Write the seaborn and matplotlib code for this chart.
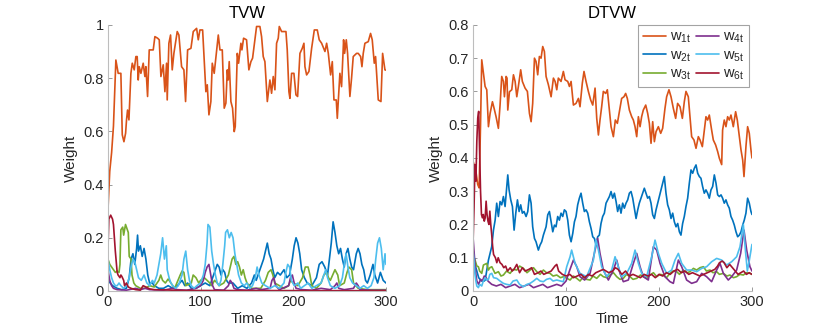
import numpy as np
import pandas as pd
import seaborn as sns
import matplotlib
matplotlib.use("Agg")
import matplotlib.pyplot as plt

# ---------------- data: TVW (left panel) ----------------
tvw_w1_t = [0, 2, 4, 6, 8.6, 11.1, 14.0, 15.5, 17.3, 19.1, 20.1, 21.2, 22.7, 24.8, 26.3, 28.4, 30.2, 31.6, 32.7, 33.8,
            35.6, 38.1, 39.9, 41.0, 42.8, 44.6, 48.9, 50.7, 53.6, 55.4, 57.2, 59.7, 61.5, 63.3, 64.0, 65.8, 67.6, 69.4,
            71.2, 74.8, 76.6, 79.5, 82.0, 83.8, 86.0, 89.6, 92.1, 95.7, 97.5, 99.3, 102.2, 105.7, 107.2, 109.0, 111.1,
            112.6, 114.7, 119.1, 120.9, 123.4, 125.5, 127.3, 128.8, 129.8, 130.9, 132.7, 134.5, 136.3, 137.4, 139.6,
            141.0, 143.5, 144.6, 146.4, 149.6, 152.1, 154.3, 156.1, 160.4, 164.0, 165.8, 167.6, 169.4, 172.0, 174.8,
            176.6, 178.4, 180.2, 182.0, 183.8, 184.9, 187.4, 192.1, 193.5, 195.3, 196.4, 198.2, 200.7, 202.9, 204.7,
            207.2, 209.7, 211.5, 212.6, 214.4, 216.9, 219.8, 222.7, 225.9, 228.0, 230.6, 234.2, 236.0, 237.8, 240.3,
            242.1, 243.9, 246.4, 247.5, 250.3, 252.1, 254.3, 255.4, 257.2, 258.6, 261.1, 262.9, 264.7, 268.3, 270.1,
            272.7, 274.1, 275.5, 277.3, 280.9, 283.4, 285.2, 287.4, 288.8, 291.7, 294.6, 296.4, 298.9, 300]
tvw_w1_v = [0.30, 0.45, 0.52, 0.62, 0.868, 0.818, 0.818, 0.587, 0.561, 0.593, 0.643, 0.680, 0.643, 0.818, 0.856, 0.831,
            0.881, 0.881, 0.793, 0.843, 0.818, 0.856, 0.806, 0.843, 0.731, 0.906, 0.906, 0.956, 0.950, 0.944, 0.806,
            0.850, 0.749, 0.856, 0.718, 0.931, 0.962, 0.831, 0.893, 0.975, 0.962, 0.843, 0.831, 0.712, 0.906, 0.912,
            0.975, 0.987, 0.944, 0.981, 0.981, 0.749, 0.775, 0.662, 0.712, 0.856, 0.818, 0.962, 0.906, 0.906, 0.687,
            0.706, 0.831, 0.793, 0.862, 0.712, 0.687, 0.599, 0.618, 0.893, 0.856, 0.931, 0.906, 0.950, 0.944, 0.831,
            0.862, 0.875, 0.994, 0.994, 0.956, 0.881, 0.862, 0.712, 0.793, 0.743, 0.806, 0.756, 0.931, 0.950, 0.994,
            0.975, 0.975, 0.906, 0.749, 0.724, 0.818, 0.818, 0.737, 0.731, 0.893, 0.912, 0.931, 0.843, 0.812, 0.825,
            0.912, 0.981, 0.981, 0.944, 0.931, 0.900, 0.931, 0.893, 0.812, 0.862, 0.718, 0.718, 0.649, 0.818, 0.768,
            0.944, 0.893, 0.944, 0.893, 0.731, 0.800, 0.881, 0.893, 0.893, 0.881, 0.843, 0.893, 0.931, 0.937, 0.968,
            0.944, 0.856, 0.881, 0.718, 0.712, 0.893, 0.831, 0.83]

tvw_w2_t = [0, 5, 10, 15, 20, 23, 25, 27, 29, 31, 32, 33, 35, 37, 39, 41, 43, 45, 48, 50, 55, 60, 65, 70, 75, 80, 83,
            86, 90, 95, 100, 105, 110, 113, 116, 118, 120, 122, 124, 126, 128, 130, 135, 140, 145, 150, 155, 158, 160,
            163, 166, 168, 170, 172, 174, 176, 178, 180, 183, 186, 190, 193, 196, 199, 201, 203, 205, 207, 209, 212,
            215, 220, 225, 228, 231, 234, 237, 239, 241, 243, 245, 247, 249, 251, 253, 255, 257, 259, 261, 263, 265,
            268, 270, 272, 274, 276, 278, 280, 283, 286, 288, 291, 294, 297, 300]
tvw_w2_v = [0.04, 0.02, 0.01, 0.005, 0.01, 0.05, 0.12, 0.14, 0.10, 0.16, 0.21, 0.15, 0.17, 0.13, 0.16, 0.12, 0.06, 0.03,
            0.03, 0.02, 0.01, 0.01, 0.02, 0.01, 0.02, 0.04, 0.02, 0.03, 0.01, 0.01, 0.02, 0.03, 0.02, 0.05, 0.08, 0.10,
            0.09, 0.06, 0.08, 0.07, 0.04, 0.03, 0.03, 0.01, 0.02, 0.01, 0.03, 0.06, 0.04, 0.07, 0.10, 0.12, 0.15, 0.18,
            0.14, 0.12, 0.08, 0.05, 0.07, 0.06, 0.08, 0.05, 0.06, 0.12, 0.17, 0.20, 0.18, 0.14, 0.08, 0.05, 0.03, 0.02,
            0.05, 0.10, 0.11, 0.09, 0.06, 0.12, 0.18, 0.26, 0.22, 0.17, 0.14, 0.16, 0.12, 0.09, 0.14, 0.16, 0.12, 0.09,
            0.08, 0.14, 0.16, 0.14, 0.10, 0.08, 0.04, 0.03, 0.06, 0.10, 0.06, 0.03, 0.07, 0.04, 0.03]

tvw_w3_t = [0, 2, 4, 6, 8, 10, 12, 13, 14, 16, 17, 19, 21, 22, 23, 25, 26, 28, 30, 35, 40, 45, 50, 55, 57, 59, 62, 65,
            68, 72, 78, 80, 82, 84, 90, 92, 95, 98, 100, 104, 107, 110, 112, 115, 118, 120, 125, 130, 134, 136, 138,
            140, 142, 144, 146, 148, 150, 155, 160, 165, 170, 173, 176, 178, 180, 185, 190, 195, 197, 200, 205, 210,
            213, 216, 218, 220, 225, 230, 233, 236, 238, 240, 245, 248, 250, 255, 258, 260, 263, 265, 270, 280, 290, 300]
tvw_w3_v = [0.12, 0.10, 0.09, 0.08, 0.07, 0.075, 0.07, 0.10, 0.23, 0.24, 0.21, 0.25, 0.23, 0.22, 0.13, 0.12, 0.06,
            0.03, 0.02, 0.01, 0.01, 0.02, 0.015, 0.04, 0.06, 0.04, 0.03, 0.045, 0.03, 0.01, 0.06, 0.075, 0.07, 0.02,
            0.03, 0.06, 0.05, 0.03, 0.04, 0.05, 0.04, 0.03, 0.02, 0.04, 0.03, 0.02, 0.03, 0.06, 0.12, 0.13, 0.10, 0.11,
            0.09, 0.06, 0.08, 0.05, 0.03, 0.01, 0.01, 0.01, 0.04, 0.07, 0.08, 0.06, 0.03, 0.02, 0.01, 0.02, 0.04, 0.03,
            0.02, 0.05, 0.09, 0.09, 0.06, 0.02, 0.01, 0.03, 0.06, 0.07, 0.05, 0.04, 0.08, 0.06, 0.02, 0.03, 0.07, 0.09,
            0.08, 0.03, 0.01, 0.005, 0.005, 0.005]

tvw_w4_t = [0, 2, 4, 6, 10, 20, 30, 35, 40, 45, 60, 70, 75, 85, 95, 100, 103, 105, 107, 109, 111, 113, 115, 125, 130,
            132, 134, 136, 140, 150, 160, 165, 175, 177, 179, 181, 185, 195, 197, 199, 201, 203, 210, 220, 230, 240,
            245, 247, 249, 255, 265, 268, 270, 272, 285, 300]
tvw_w4_v = [0.08, 0.04, 0.02, 0.01, 0.005, 0.003, 0.01, 0.005, 0.01, 0.005, 0.003, 0.01, 0.005, 0.003, 0.01, 0.02,
            0.04, 0.07, 0.09, 0.10, 0.06, 0.02, 0.005, 0.003, 0.02, 0.04, 0.03, 0.01, 0.005, 0.003, 0.01, 0.005, 0.01,
            0.04, 0.05, 0.02, 0.005, 0.02, 0.05, 0.06, 0.03, 0.01, 0.005, 0.003, 0.01, 0.005, 0.02, 0.03, 0.01, 0.005,
            0.01, 0.03, 0.02, 0.005, 0.003, 0.003]

tvw_w5_t = [0, 2, 4, 6, 8, 10, 12, 14, 17, 20, 23, 25, 27, 29, 31, 33, 36, 39, 42, 45, 48, 50, 53, 55, 57, 59, 61, 63,
            64, 66, 68, 70, 73, 76, 80, 82, 84, 86, 88, 90, 93, 96, 100, 103, 105, 107, 108, 110, 112, 114, 116, 118,
            120, 122, 124, 126, 127, 129, 131, 133, 135, 137, 139, 141, 144, 147, 150, 153, 156, 159, 161, 163, 166,
            170, 175, 180, 185, 190, 192, 194, 196, 198, 201, 205, 208, 212, 216, 220, 225, 230, 233, 235, 237, 240,
            245, 250, 253, 255, 257, 259, 261, 264, 268, 272, 276, 280, 284, 287, 289, 291, 293, 295, 297, 299, 300]
tvw_w5_v = [0.12, 0.08, 0.05, 0.03, 0.02, 0.02, 0.03, 0.02, 0.01, 0.02, 0.05, 0.09, 0.12, 0.11, 0.08, 0.05, 0.04,
            0.06, 0.03, 0.02, 0.04, 0.03, 0.06, 0.10, 0.14, 0.20, 0.12, 0.17, 0.08, 0.05, 0.03, 0.02, 0.01, 0.02, 0.06,
            0.12, 0.15, 0.08, 0.04, 0.02, 0.01, 0.02, 0.03, 0.06, 0.10, 0.18, 0.25, 0.24, 0.15, 0.10, 0.06, 0.03, 0.02,
            0.04, 0.10, 0.17, 0.22, 0.23, 0.20, 0.22, 0.20, 0.14, 0.10, 0.06, 0.03, 0.02, 0.03, 0.01, 0.02, 0.05, 0.09,
            0.06, 0.03, 0.02, 0.01, 0.02, 0.01, 0.03, 0.07, 0.10, 0.09, 0.04, 0.02, 0.03, 0.01, 0.02, 0.03, 0.01, 0.02,
            0.03, 0.06, 0.08, 0.05, 0.02, 0.01, 0.02, 0.05, 0.10, 0.14, 0.09, 0.05, 0.03, 0.02, 0.01, 0.02, 0.01, 0.02,
            0.05, 0.12, 0.18, 0.20, 0.16, 0.08, 0.14, 0.10]

tvw_w6_t = [0, 1, 3, 5, 6, 7, 8, 9, 10, 11, 13, 14, 15, 17, 18, 20, 22, 25, 30, 35, 38, 41, 45, 50, 60, 80, 300]
tvw_w6_v = [0.15, 0.27, 0.285, 0.27, 0.25, 0.20, 0.15, 0.11, 0.07, 0.06, 0.05, 0.06, 0.055, 0.04, 0.02, 0.03, 0.015,
            0.01, 0.005, 0.003, 0.02, 0.015, 0.008, 0.005, 0.004, 0.002, 0.001]

# ---------------- data: DTVW (right panel) ----------------
dtvw_w1_t = [0, 3, 5, 6.5, 8, 9.3, 12.9, 14.7, 16.5, 18.3, 20.8, 22.6, 24.7, 27.2, 29.0, 30.8, 32.6, 33.7, 35.5, 36.5,
             37.3, 39.1, 41.6, 43.4, 45.2, 47.0, 48.7, 51.2, 53.0, 55.9, 58.4, 60.6, 62.4, 64.1, 66.0, 67.7, 69.5, 71.3,
             73.1, 74.9, 76.7, 78.5, 81.0, 83.9, 86.4, 88.2, 90.0, 91.7, 94.6, 97.1, 98.9, 101.8, 103.6, 105.4, 107.9,
             110.7, 113.3, 115.0, 117.5, 119.3, 121.5, 124.0, 126.5, 128.7, 131.2, 133.0, 134.8, 136.5, 138.3, 140.1,
             142.6, 144.4, 146.6, 148.4, 150.9, 153.0, 155.2, 157.3, 159.8, 162.3, 164.1, 165.9, 168.1, 170.6, 172.4,
             174.2, 176.0, 177.8, 179.6, 181.3, 183.1, 185.7, 187.8, 189.6, 191.4, 193.2, 195.0, 196.8, 199.3, 201.8,
             203.9, 206.4, 208.2, 210.7, 212.9, 215.4, 217.9, 220.0, 222.6, 225.1, 227.2, 229.0, 231.5, 233.3, 235.1,
             237.6, 239.8, 242.3, 244.1, 246.6, 248.7, 250.5, 252.3, 254.1, 256.6, 258.4, 260.9, 263.1, 264.9, 267.4,
             268.4, 270.2, 272.0, 273.8, 275.6, 277.4, 279.9, 282.4, 284.2, 286.4, 288.2, 290.0, 291.4, 293.5, 295.3,
             297.1, 298.9, 300]
dtvw_w1_v = [0.39, 0.36, 0.32, 0.31, 0.50, 0.695, 0.615, 0.605, 0.494, 0.534, 0.569, 0.549, 0.524, 0.489, 0.559, 0.645,
             0.630, 0.584, 0.645, 0.640, 0.544, 0.599, 0.605, 0.650, 0.630, 0.584, 0.615, 0.665, 0.630, 0.610, 0.600,
             0.534, 0.509, 0.564, 0.700, 0.690, 0.650, 0.705, 0.700, 0.735, 0.720, 0.645, 0.620, 0.584, 0.640, 0.630,
             0.605, 0.640, 0.630, 0.660, 0.635, 0.630, 0.615, 0.630, 0.559, 0.564, 0.579, 0.554, 0.625, 0.660, 0.630,
             0.600, 0.574, 0.559, 0.610, 0.519, 0.469, 0.514, 0.554, 0.600, 0.594, 0.605, 0.544, 0.494, 0.464, 0.514,
             0.504, 0.539, 0.579, 0.584, 0.594, 0.579, 0.544, 0.524, 0.514, 0.494, 0.464, 0.524, 0.494, 0.524, 0.544,
             0.559, 0.534, 0.504, 0.444, 0.509, 0.449, 0.479, 0.494, 0.474, 0.489, 0.549, 0.584, 0.605, 0.584, 0.549,
             0.519, 0.564, 0.554, 0.519, 0.569, 0.600, 0.584, 0.524, 0.464, 0.454, 0.429, 0.464, 0.454, 0.434, 0.484,
             0.524, 0.514, 0.529, 0.484, 0.454, 0.439, 0.419, 0.399, 0.380, 0.484, 0.514, 0.494, 0.524, 0.514, 0.529,
             0.494, 0.539, 0.514, 0.464, 0.424, 0.394, 0.344, 0.434, 0.494, 0.474, 0.424, 0.40]

dtvw_w2_t = [0, 3, 6, 9, 12, 13, 16.5, 20, 21.9, 23.7, 25.4, 27.2, 29.0, 30.8, 32.6, 34.4, 36.2, 37.3, 38.7, 40.5,
             42.3, 44.1, 45.9, 47.7, 49.5, 51.2, 53.0, 54.8, 57.0, 58.8, 60.6, 62.4, 64.1, 66.0, 67.7, 70.2, 72.0, 73.8,
             75.6, 78.5, 80.3, 82.1, 83.9, 85.7, 87.5, 89.2, 91.0, 92.8, 94.6, 96.4, 98.2, 100.0, 101.8, 103.6, 105.4,
             107.2, 109.0, 110.7, 112.5, 114.3, 116.1, 117.9, 119.7, 121.5, 123.3, 125.1, 126.9, 128.7, 130.5, 132.3,
             134.0, 135.8, 137.6, 139.4, 141.2, 143.0, 144.8, 146.6, 148.4, 150.2, 152.0, 153.8, 155.5, 157.3, 159.1,
             160.9, 162.7, 164.5, 166.3, 168.1, 169.9, 171.7, 173.5, 175.3, 177.1, 178.8, 180.6, 182.4, 184.2, 186.0,
             187.8, 189.6, 191.4, 193.2, 195.0, 196.8, 198.6, 200.4, 202.2, 204.0, 205.7, 207.5, 209.3, 211.1, 212.9,
             214.7, 216.5, 218.3, 220.1, 221.9, 223.6, 225.4, 227.2, 229.0, 230.8, 232.6, 234.4, 236.2, 238.0, 239.8,
             241.6, 243.4, 245.1, 246.9, 248.7, 250.5, 252.3, 254.1, 255.9, 257.7, 259.5, 261.3, 263.1, 264.9, 266.7,
             268.4, 270.2, 272.0, 273.8, 275.6, 277.4, 279.2, 281.0, 282.8, 284.6, 286.4, 288.2, 290.0, 291.7, 293.5,
             295.3, 297.1, 298.9, 300]
dtvw_w2_v = [0.12, 0.07, 0.04, 0.03, 0.03, 0.033, 0.093, 0.133, 0.183, 0.213, 0.264, 0.224, 0.269, 0.259, 0.284, 0.254,
             0.314, 0.349, 0.304, 0.274, 0.254, 0.183, 0.234, 0.274, 0.239, 0.259, 0.234, 0.239, 0.224, 0.239, 0.289,
             0.264, 0.193, 0.158, 0.148, 0.123, 0.138, 0.148, 0.168, 0.193, 0.229, 0.239, 0.208, 0.178, 0.198, 0.193,
             0.224, 0.213, 0.234, 0.224, 0.244, 0.239, 0.213, 0.168, 0.148, 0.173, 0.208, 0.224, 0.259, 0.279, 0.294,
             0.264, 0.239, 0.244, 0.234, 0.208, 0.188, 0.163, 0.158, 0.138, 0.163, 0.168, 0.203, 0.224, 0.234, 0.264,
             0.274, 0.284, 0.299, 0.279, 0.294, 0.269, 0.239, 0.259, 0.234, 0.264, 0.249, 0.264, 0.274, 0.294, 0.299,
             0.279, 0.249, 0.218, 0.244, 0.264, 0.279, 0.294, 0.309, 0.294, 0.279, 0.284, 0.264, 0.229, 0.218, 0.244,
             0.264, 0.284, 0.304, 0.324, 0.344, 0.294, 0.259, 0.244, 0.218, 0.234, 0.208, 0.193, 0.203, 0.178, 0.168,
             0.203, 0.224, 0.254, 0.279, 0.324, 0.364, 0.354, 0.369, 0.379, 0.354, 0.344, 0.339, 0.314, 0.294, 0.304,
             0.294, 0.279, 0.304, 0.314, 0.349, 0.324, 0.289, 0.284, 0.289, 0.279, 0.264, 0.274, 0.259, 0.249, 0.224,
             0.213, 0.198, 0.178, 0.163, 0.168, 0.178, 0.198, 0.213, 0.234, 0.279, 0.264, 0.239, 0.23]

dtvw_w3_t = [0, 2.1, 4, 5.7, 7, 9.3, 11.1, 14.7, 16.5, 18, 20.1, 23.6, 27.2, 30, 32.6, 36, 39.8, 43, 47.0, 50, 54.1,
             58, 61.3, 65, 68.5, 72, 75.6, 79, 82.8, 86, 90.0, 94, 97.1, 101, 104.3, 108, 111.5, 115, 118.6, 122, 125.8,
             129, 133.0, 137, 140.1, 144, 147.3, 151, 154.5, 158, 161.6, 165, 168.8, 172, 176.0, 180, 183.1, 187, 190.3,
             194, 197.5, 201, 204.6, 208, 211.8, 215, 219.0, 222, 226.1, 230, 233.3, 237, 240.5, 244, 247.7, 251, 254.8,
             258, 262.0, 265, 269.2, 273, 276.3, 280, 283.5, 287, 290.7, 294, 297.8, 300]
dtvw_w3_v = [0.10, 0.093, 0.075, 0.073, 0.06, 0.053, 0.078, 0.083, 0.063, 0.07, 0.073, 0.053, 0.058, 0.045, 0.048,
             0.06, 0.053, 0.065, 0.063, 0.075, 0.068, 0.055, 0.063, 0.07, 0.058, 0.05, 0.063, 0.055, 0.053, 0.045, 0.048,
             0.04, 0.043, 0.038, 0.033, 0.045, 0.038, 0.03, 0.043, 0.035, 0.033, 0.045, 0.038, 0.05, 0.043, 0.04, 0.048,
             0.055, 0.043, 0.035, 0.038, 0.05, 0.043, 0.035, 0.038, 0.048, 0.043, 0.038, 0.048, 0.055, 0.043, 0.05,
             0.048, 0.04, 0.053, 0.06, 0.058, 0.05, 0.063, 0.055, 0.058, 0.068, 0.063, 0.07, 0.073, 0.06, 0.063, 0.055,
             0.058, 0.05, 0.053, 0.045, 0.048, 0.04, 0.043, 0.05, 0.048, 0.055, 0.053, 0.05]

dtvw_w4_t = [0, 1, 2, 3, 4, 6, 8, 10, 12, 14, 16, 18, 20, 25, 30, 35, 40, 45, 50, 55, 60, 65, 70, 75, 80, 85, 90, 95,
             100, 104, 107.9, 111.5, 115, 120, 125.8, 131.2, 134, 136.5, 140.1, 145.5, 150.9, 154.5, 158, 161.6, 167,
             172.4, 176, 179.6, 183.1, 188.5, 193.9, 197.5, 201.1, 206.4, 211.8, 215.4, 220.8, 224.4, 229.7, 235.1,
             240.5, 245.9, 251.2, 256.6, 262, 265.6, 269.2, 274.5, 278.1, 283.5, 287.8, 291.4, 294.3, 297.8, 300]
dtvw_w4_v = [0.16, 0.12, 0.08, 0.05, 0.03, 0.02, 0.035, 0.03, 0.045, 0.04, 0.03, 0.025, 0.02, 0.015, 0.02, 0.01, 0.015,
             0.02, 0.01, 0.015, 0.02, 0.01, 0.015, 0.02, 0.01, 0.015, 0.02, 0.015, 0.03, 0.063, 0.093, 0.073, 0.043,
             0.033, 0.053, 0.123, 0.158, 0.113, 0.063, 0.033, 0.063, 0.093, 0.053, 0.028, 0.033, 0.083, 0.113, 0.073,
             0.043, 0.033, 0.133, 0.123, 0.083, 0.043, 0.028, 0.023, 0.093, 0.073, 0.033, 0.023, 0.028, 0.053, 0.043,
             0.028, 0.063, 0.083, 0.053, 0.033, 0.043, 0.063, 0.113, 0.183, 0.123, 0.073, 0.06]

dtvw_w5_t = [0, 1, 2, 3, 4, 5.7, 7, 9.3, 11, 13, 14.7, 16.5, 18, 20.1, 22, 25.4, 29, 32.6, 36, 39.8, 43, 47.0, 50, 54.1,
             58, 61.3, 65, 68.5, 72, 75.6, 79, 82.8, 86, 90.0, 94, 97.1, 100.7, 104.3, 106, 109.7, 115, 122.2, 129.4,
             132.3, 134.8, 138.3, 143.7, 149.1, 152.7, 156.2, 159.8, 165.2, 170.6, 174.2, 177.8, 181.3, 186.7, 192.1,
             195.7, 199.3, 202.9, 208.2, 213.6, 217.2, 220.8, 224.4, 229.7, 235.1, 240.5, 245.9, 251.2, 256.6, 262.0,
             267.4, 272.7, 278.1, 283.5, 287.1, 290.7, 293, 295, 297, 300]
dtvw_w5_v = [0.12, 0.09, 0.05, 0.03, 0.015, 0.01, 0.02, 0.015, 0.03, 0.04, 0.033, 0.035, 0.05, 0.053, 0.04, 0.038, 0.03,
             0.023, 0.02, 0.018, 0.03, 0.033, 0.02, 0.013, 0.02, 0.023, 0.03, 0.038, 0.03, 0.028, 0.035, 0.038, 0.03,
             0.033, 0.03, 0.028, 0.073, 0.103, 0.123, 0.083, 0.053, 0.043, 0.093, 0.153, 0.123, 0.073, 0.043, 0.063,
             0.103, 0.073, 0.043, 0.053, 0.083, 0.123, 0.083, 0.053, 0.043, 0.103, 0.153, 0.113, 0.083, 0.053, 0.063,
             0.093, 0.113, 0.083, 0.063, 0.063, 0.058, 0.068, 0.073, 0.088, 0.098, 0.093, 0.078, 0.088, 0.103, 0.133,
             0.20, 0.12, 0.06, 0.09, 0.14]

dtvw_w6_t = [0, 1, 2, 3, 4, 5, 6, 7, 8, 9, 10, 11, 12, 13, 14, 15, 16, 17, 18, 19, 20, 21, 22, 24, 25.5, 27, 29, 31,
             33, 35, 37, 40, 42, 44, 47, 50, 53, 56, 60, 63, 66, 70, 73, 76, 80, 84, 88, 90, 92, 96, 100, 104, 108, 112,
             116, 120, 124, 128, 132, 136, 140, 143, 146, 150, 153, 156, 160, 164, 168, 172, 176, 180, 184, 188, 192,
             196, 200, 204, 208, 212, 216, 220, 224, 228, 232, 236, 240, 244, 248, 252, 256, 260, 263, 265, 268, 270,
             273, 276, 279, 282, 285, 288, 291, 294, 297, 300]
dtvw_w6_v = [0.15, 0.25, 0.38, 0.33, 0.45, 0.52, 0.54, 0.42, 0.30, 0.23, 0.22, 0.23, 0.21, 0.22, 0.27, 0.23, 0.21, 0.20,
             0.24, 0.20, 0.17, 0.135, 0.11, 0.10, 0.085, 0.10, 0.085, 0.08, 0.07, 0.075, 0.06, 0.07, 0.06, 0.065, 0.08,
             0.055, 0.07, 0.06, 0.065, 0.07, 0.05, 0.055, 0.06, 0.05, 0.055, 0.06, 0.075, 0.08, 0.06, 0.05, 0.045, 0.05,
             0.04, 0.045, 0.05, 0.04, 0.05, 0.045, 0.055, 0.06, 0.065, 0.06, 0.055, 0.06, 0.07, 0.065, 0.05, 0.06, 0.045,
             0.05, 0.045, 0.04, 0.05, 0.045, 0.05, 0.04, 0.05, 0.045, 0.055, 0.05, 0.06, 0.065, 0.055, 0.06, 0.05, 0.055,
             0.05, 0.045, 0.05, 0.055, 0.06, 0.065, 0.075, 0.085, 0.09, 0.085, 0.07, 0.08, 0.07, 0.06, 0.05, 0.055, 0.06,
             0.05, 0.055, 0.05]

series_labels = ["$w_{1t}$", "$w_{2t}$", "$w_{3t}$", "$w_{4t}$", "$w_{5t}$", "$w_{6t}$"]
panel_titles = ["TVW", "DTVW"]
x_ticks = [0, 100, 200, 300]
left_yticks = [0, 0.2, 0.4, 0.6, 0.8, 1]
left_ylabels = ["0", "0.2", "0.4", "0.6", "0.8", "1"]
right_yticks = [0, 0.1, 0.2, 0.3, 0.4, 0.5, 0.6, 0.7, 0.8]
right_ylabels = ["0", "0.1", "0.2", "0.3", "0.4", "0.5", "0.6", "0.7", "0.8"]

colors = ["#D95319", "#0072BD", "#77AC30", "#7E2F8E", "#4DBEEE", "#A2142F"]

sns.set_style("ticks")
plt.rcParams["font.family"] = ["Liberation Sans", "DejaVu Sans"]
plt.rcParams["mathtext.default"] = "regular"

fig = plt.figure(figsize=(8.3, 3.32), dpi=100)
ax1 = fig.add_axes([0.130, 0.1235, 0.335, 0.8015])
ax2 = fig.add_axes([0.570, 0.1235, 0.336, 0.8015])

left_data = [(tvw_w1_t, tvw_w1_v), (tvw_w2_t, tvw_w2_v), (tvw_w3_t, tvw_w3_v),
             (tvw_w4_t, tvw_w4_v), (tvw_w5_t, tvw_w5_v), (tvw_w6_t, tvw_w6_v)]
right_data = [(dtvw_w1_t, dtvw_w1_v), (dtvw_w2_t, dtvw_w2_v), (dtvw_w3_t, dtvw_w3_v),
              (dtvw_w4_t, dtvw_w4_v), (dtvw_w5_t, dtvw_w5_v), (dtvw_w6_t, dtvw_w6_v)]

axis_color = "#262626"
for ax, data, title in [(ax1, left_data, panel_titles[0]), (ax2, right_data, panel_titles[1])]:
    for (t, v), c, lab in zip(data, colors, series_labels):
        df = pd.DataFrame({"Time": t, "Weight": v})
        sns.lineplot(data=df, x="Time", y="Weight", ax=ax, color=c, lw=1.2,
                     label=lab, sort=False, estimator=None)
    ax.set_xlim(0, 300)
    ax.set_xticks(x_ticks)
    ax.set_xticklabels([str(x) for x in x_ticks])
    ax.set_title(title, fontsize=12, pad=5, color="black")
    ax.set_xlabel("Time", fontsize=11, labelpad=2, color=axis_color)
    ax.set_ylabel("Weight", fontsize=11, labelpad=4, color=axis_color)
    for s in ["top", "right"]:
        ax.spines[s].set_visible(False)
    for s in ["left", "bottom"]:
        ax.spines[s].set_color("#bdbdbd")
        ax.spines[s].set_linewidth(0.8)
    ax.tick_params(direction="in", length=3, width=0.7, color="#9a9a9a",
                   labelsize=10.5, labelcolor=axis_color, pad=3)

ax1.set_ylim(0, 1)
ax1.set_yticks(left_yticks)
ax1.set_yticklabels(left_ylabels)
ax1.get_legend().remove()

ax2.set_ylim(0, 0.8)
ax2.set_yticks(right_yticks)
ax2.set_yticklabels(right_ylabels)
ax2.get_legend().remove()
handles, labels = ax2.get_legend_handles_labels()
leg = ax2.legend(handles, labels, ncol=2, loc="upper right", bbox_to_anchor=(0.99, 1.0),
                 fontsize=10.5, frameon=True, fancybox=False, handlelength=1.6,
                 columnspacing=0.35, handletextpad=0.25, labelspacing=0.2,
                 borderpad=0.35, borderaxespad=0.0)
leg.get_frame().set_edgecolor("#8c8c8c")
leg.get_frame().set_linewidth(0.8)

fig.savefig("out.png", dpi=100)
